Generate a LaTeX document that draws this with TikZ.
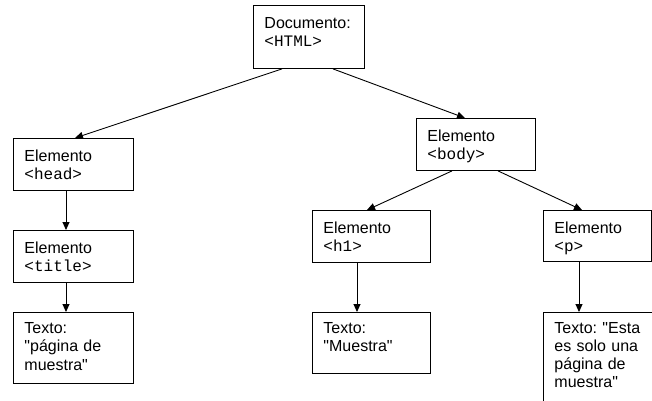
\documentclass[tikz,border=0pt]{standalone}
\usepackage{fontspec}
\setmainfont{Liberation Sans}[Ligatures=TeXOff]
\setmonofont{Liberation Mono}
\usetikzlibrary{arrows.meta}
\frenchspacing
\tikzset{
  box/.style={draw, line width=0.9pt, anchor=north west, inner xsep=11pt, inner ysep=0pt,
    text height=23pt, align=left, font=\fontsize{16}{18.4}\selectfont},
  textbox/.style={box, text height=21pt},
  link/.style={draw, line width=0.9pt, -{Triangle[length=8pt,width=7pt]}}
}
\begin{document}
\begin{tikzpicture}[x=1pt,y=-1pt]
\useasboundingbox (0,0) rectangle (652,400);
\node[box, text width=89pt, text depth=40pt] (doc) at (253,5) {Documento:\\\texttt{<HTML>}};
\node[box, text width=98pt, text depth=29pt] (head) at (13,138) {Elemento\\\texttt{<head>}};
\node[box, text width=98pt, text depth=29pt] (title) at (13,230) {Elemento\\\texttt{<title>}};
\node[textbox, text width=98pt, text depth=50pt] (t1) at (13,312) {Texto:\\"página de\\muestra"};
\node[box, text width=97pt, text depth=29pt] (body) at (416,118) {Elemento\\\texttt{<body>}};
\node[box, text width=96pt, text depth=29pt] (h1) at (312,210) {Elemento\\\texttt{<h1>}};
\node[box, text width=86pt, text depth=28pt] (p) at (543,210) {Elemento\\\texttt{<p>}};
\node[textbox, text width=96pt, text depth=40pt] (t2) at (312,312) {Texto:\\"Muestra"};
\node[textbox, text width=110pt, text depth=100pt, font=\fontsize{16}{18}\selectfont] (t3) at (543,312) {Texto: "Esta\\es solo una\\página de\\muestra"};
\draw[link] ([xshift=29pt]doc.south west) -- ([xshift=62pt]head.north west);
\draw[link] ([xshift=80pt]doc.south west) -- ([xshift=49pt]body.north west);
\draw[link] ([xshift=36pt]body.south west) -- ([xshift=55pt]h1.north west);
\draw[link] ([xshift=82pt]body.south west) -- ([xshift=39pt]p.north west);
\draw[link] ([xshift=53pt]head.south west) -- ([xshift=53pt]title.north west);
\draw[link] ([xshift=53pt]title.south west) -- ([xshift=53pt]t1.north west);
\draw[link] ([xshift=45pt]h1.south west) -- ([xshift=45pt]t2.north west);
\draw[link] ([xshift=36pt]p.south west) -- ([xshift=36pt]t3.north west);
\end{tikzpicture}
\end{document}
